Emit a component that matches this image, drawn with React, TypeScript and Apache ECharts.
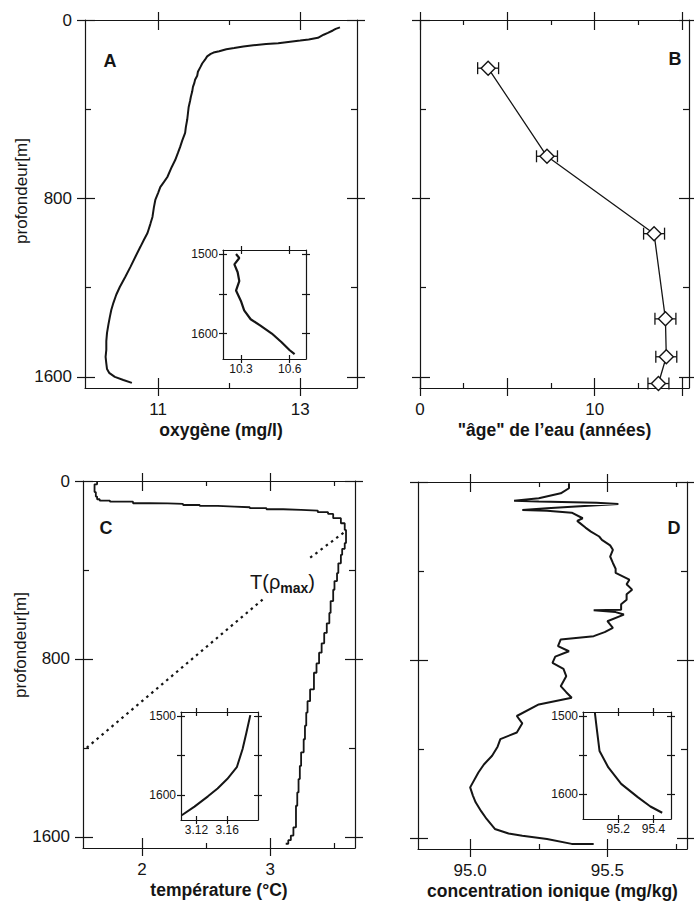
import React, { useEffect, useRef } from 'react';
import * as echarts from 'echarts';

// ---------- data ----------
const depthMajor = [0, 800, 1600];
const depthMinor = [400, 1200];
const depthLabels = [0, 800, 1600];
const insetDepthTicks = [1500, 1550, 1600];
const insetDepthLabels = [1500, 1600];

// A: oxygen [mg/l, depth m]
const oxyMajor = [11, 13];
const oxyMinor = [12];
const oxyLabels = [11, 13];
const oxygenProfile: number[][] = [
  [13.56, 33], [13.5, 40], [13.46, 47], [13.39, 58], [13.33, 66], [13.25, 80], [13.12, 87], [13.0, 92],
  [12.86, 97], [12.69, 104], [12.52, 108], [12.34, 113], [12.2, 119], [12.07, 126], [11.96, 131], [11.86, 140],
  [11.78, 146], [11.74, 152], [11.69, 163], [11.66, 178], [11.62, 195], [11.6, 208], [11.56, 232], [11.55, 250],
  [11.52, 268], [11.51, 282], [11.49, 300], [11.48, 320], [11.46, 345], [11.45, 362], [11.43, 390], [11.42, 417],
  [11.41, 445], [11.39, 480], [11.38, 506], [11.34, 540], [11.31, 569], [11.28, 595], [11.24, 628], [11.19, 660],
  [11.13, 704], [11.08, 727], [11.03, 749], [11.0, 775], [10.96, 807], [10.94, 840], [10.92, 883], [10.89, 915],
  [10.85, 955], [10.8, 985], [10.75, 1017], [10.69, 1055], [10.61, 1107], [10.54, 1150], [10.46, 1197], [10.41, 1232],
  [10.37, 1268], [10.34, 1300], [10.32, 1331], [10.3, 1365], [10.28, 1403], [10.27, 1440], [10.27, 1479], [10.26, 1510],
  [10.27, 1540], [10.28, 1565], [10.31, 1582], [10.39, 1600], [10.51, 1614], [10.63, 1627],
];
const oxyInsetTicks = [10.3, 10.6];
const oxygenInset: number[][] = [
  [10.27, 1500], [10.29, 1505], [10.26, 1513], [10.28, 1523], [10.29, 1534], [10.27, 1546], [10.3, 1559],
  [10.32, 1571], [10.36, 1582], [10.42, 1590], [10.49, 1600], [10.55, 1611], [10.6, 1621], [10.63, 1626],
];

// B: water age [years, depth m]
const ageMajor = [0, 5, 10, 15];
const ageMinor = [2.5, 7.5, 12.5];
const ageLabels = [0, 10];
const ageDepths = [216, 611, 958, 1340, 1510, 1630];
const ageValues = [3.9, 7.27, 13.4, 14.05, 14.1, 13.65];
const ageErrors = [0.6, 0.6, 0.6, 0.6, 0.6, 0.6];

// C: temperature [°C, depth m]
const tempMajor = [2, 3];
const tempMinor = [2.5, 3.5];
const tempLabels = [2, 3];
const temperatureProfile: number[][] = [
  [1.65, 5], [1.63, 15], [1.63, 30], [1.64, 50], [1.65, 70], [1.67, 82], [1.75, 88], [1.93, 93], [2.06, 100],
  [2.2, 101], [2.32, 103], [2.45, 108], [2.59, 112], [2.72, 115], [2.84, 118], [2.97, 122], [3.1, 127], [3.24, 130],
  [3.37, 133], [3.45, 140], [3.49, 148], [3.55, 167], [3.58, 190], [3.59, 220], [3.59, 250], [3.58, 279], [3.56, 305],
  [3.55, 332], [3.53, 370], [3.52, 414], [3.5, 450], [3.49, 489], [3.47, 540], [3.46, 593], [3.44, 640], [3.42, 683],
  [3.4, 730], [3.38, 772], [3.36, 820], [3.34, 862], [3.31, 937], [3.29, 990], [3.28, 1041], [3.27, 1100], [3.26, 1161],
  [3.24, 1220], [3.23, 1281], [3.22, 1340], [3.21, 1400], [3.2, 1460], [3.2, 1505], [3.18, 1557], [3.16, 1594],
  [3.14, 1615], [3.12, 1631],
];
const tRhoMaxUpper: number[][] = [[3.57, 233], [3.31, 345]];
const tRhoMaxLower: number[][] = [[2.94, 533], [1.555, 1206]];
const tempInsetTicks = [3.12, 3.16];
const temperatureInset: number[][] = [
  [3.19, 1499], [3.185, 1521], [3.18, 1542], [3.1725, 1565], [3.16, 1580], [3.1475, 1592], [3.135, 1602],
  [3.1175, 1615], [3.101, 1626],
];

// D: ionic concentration [mg/kg, depth m]
const ionMajor = [95.0, 95.5];
const ionMinor = [95.25, 95.75];
const ionLabels = [95.0, 95.5];
const ionProfile: number[][] = [
  [95.36, 6], [95.36, 28], [95.33, 51], [95.25, 73], [95.16, 84], [95.25, 88], [95.46, 93], [95.54, 99],
  [95.37, 111], [95.28, 118], [95.19, 126], [95.28, 129], [95.37, 138], [95.41, 163], [95.39, 175], [95.4, 185],
  [95.42, 205], [95.44, 223], [95.47, 245], [95.48, 260], [95.51, 285], [95.52, 305], [95.51, 335], [95.52, 364],
  [95.53, 390], [95.53, 409], [95.58, 439], [95.57, 460], [95.59, 484], [95.57, 505], [95.57, 529], [95.55, 550],
  [95.55, 574], [95.45, 577], [95.53, 585], [95.56, 596], [95.5, 626], [95.52, 656], [95.49, 675], [95.45, 693],
  [95.33, 708], [95.32, 738], [95.36, 761], [95.31, 785], [95.3, 813], [95.34, 840], [95.35, 873], [95.33, 918],
  [95.35, 945], [95.37, 970], [95.25, 1000], [95.17, 1052], [95.19, 1085], [95.17, 1126], [95.11, 1156], [95.1, 1190],
  [95.08, 1231], [95.05, 1270], [95.03, 1306], [95.0, 1373], [95.01, 1410], [95.02, 1440], [95.04, 1480],
  [95.06, 1515], [95.09, 1560], [95.14, 1580], [95.19, 1590], [95.28, 1605], [95.37, 1627], [95.45, 1627],
];
const ionInsetTicks = [95.2, 95.4];
const ionInset: number[][] = [
  [95.067, 1495], [95.078, 1516], [95.094, 1545], [95.144, 1566], [95.217, 1587], [95.311, 1604],
  [95.383, 1616], [95.45, 1624],
];

// ---------- styling ----------
const INK = '#151515';
const FONT = '"Liberation Sans", Arial, Helvetica, sans-serif';

type FrameCfg = {
  min: number; max: number; inverse?: boolean;
  major: number[]; minor?: number[]; labels?: number[]; digits?: number;
  out: number; inn: number; minorLen?: number;
  labelSize?: number; labelMargin?: number;
  name?: string; nameGap?: number;
};

function buildOption() {
  const grids = [
    { left: 85, top: 20, width: 272, height: 368 },
    { left: 420, top: 20, width: 269, height: 368 },
    { left: 83, top: 481, width: 272, height: 367 },
    { left: 418, top: 482, width: 269, height: 367 },
    { left: 223, top: 250, width: 83, height: 109, show: true, backgroundColor: '#fff', borderWidth: 0 },
    { left: 181, top: 712, width: 77, height: 108, show: true, backgroundColor: '#fff', borderWidth: 0 },
    { left: 583, top: 712, width: 88, height: 107, show: true, backgroundColor: '#fff', borderWidth: 0 },
  ].map((g) => ({ containLabel: false, outerBoundsMode: 'none', ...g }));

  const xAxes: any[] = [];
  const yAxes: any[] = [];
  const xMain: number[] = [];
  const yMain: number[] = [];

  const tickStyle = { color: INK, width: 1.2 };

  function addFrame(list: any[], mainIdx: number[], dim: 'x' | 'y', grid: number, c: FrameCfg) {
    const sides = dim === 'x' ? ['bottom', 'top'] : ['left', 'right'];
    sides.forEach((pos, si) => {
      const base: any = {
        type: 'value', gridIndex: grid, position: pos, min: c.min, max: c.max, inverse: !!c.inverse,
        splitLine: { show: false }, splitArea: { show: false }, minorTick: { show: false },
        axisLine: { show: false, onZero: false }, axisTick: { show: false }, axisLabel: { show: false },
        silent: true,
      };
      const main: any = {
        ...base,
        axisLine: { show: true, onZero: false, lineStyle: { color: INK, width: 1.2 } },
        axisTick: { show: true, inside: false, length: c.out, customValues: c.major, lineStyle: tickStyle },
      };
      if (si === 0) {
        if (c.labels) {
          main.axisLabel = {
            show: true, customValues: c.labels, margin: c.labelMargin ?? 13,
            fontSize: c.labelSize ?? 17, color: INK, fontFamily: FONT,
            formatter: (v: number) => (c.digits ? Number(v).toFixed(c.digits) : String(Math.round(v))),
          };
        }
        if (c.name) {
          main.name = c.name;
          main.nameLocation = 'middle';
          main.nameGap = c.nameGap ?? 33;
          main.nameTextStyle = { fontSize: 17.5, fontWeight: 'bold', color: INK, fontFamily: FONT };
        }
        mainIdx[grid] = list.length;
      }
      list.push(main);
      list.push({
        ...base,
        axisTick: { show: true, inside: true, length: c.inn, customValues: c.major, lineStyle: tickStyle },
      });
      if (c.minor && c.minor.length) {
        list.push({
          ...base,
          axisTick: { show: true, inside: true, length: c.minorLen ?? 5, customValues: c.minor, lineStyle: tickStyle },
        });
      }
    });
  }

  const depthCfg = (labels: boolean): FrameCfg => ({
    min: 0, max: 1650, inverse: true, major: depthMajor, minor: depthMinor,
    labels: labels ? depthLabels : undefined, out: 8, inn: 10, minorLen: 6, labelMargin: 13,
  });
  const insetDepthCfg: FrameCfg = {
    min: 1495, max: 1632, inverse: true, major: insetDepthTicks, labels: insetDepthLabels,
    out: 4, inn: 4, labelSize: 12, labelMargin: 5,
  };

  // A
  addFrame(xAxes, xMain, 'x', 0, { min: 9.97, max: 13.8, major: oxyMajor, minor: oxyMinor, labels: oxyLabels, out: 8, inn: 10, name: 'oxygène (mg/l)' });
  addFrame(yAxes, yMain, 'y', 0, depthCfg(true));
  // B
  addFrame(xAxes, xMain, 'x', 1, { min: 0, max: 15.4, major: ageMajor, minor: ageMinor, labels: ageLabels, out: 8, inn: 10, name: '"âge" de l\u2019eau (années)' });
  addFrame(yAxes, yMain, 'y', 1, depthCfg(false));
  // C
  addFrame(xAxes, xMain, 'x', 2, { min: 1.54, max: 3.66, major: tempMajor, minor: tempMinor, labels: tempLabels, out: 8, inn: 10, name: 'température (°C)' });
  addFrame(yAxes, yMain, 'y', 2, depthCfg(true));
  // D
  addFrame(xAxes, xMain, 'x', 3, { min: 94.81, max: 95.79, major: ionMajor, minor: ionMinor, labels: ionLabels, digits: 1, out: 8, inn: 10, name: 'concentration ionique (mg/kg)' });
  addFrame(yAxes, yMain, 'y', 3, depthCfg(false));
  // insets
  addFrame(xAxes, xMain, 'x', 4, { min: 10.19, max: 10.7, major: oxyInsetTicks, labels: oxyInsetTicks, digits: 1, out: 4, inn: 4, labelSize: 12, labelMargin: 4 });
  addFrame(yAxes, yMain, 'y', 4, insetDepthCfg);
  addFrame(xAxes, xMain, 'x', 5, { min: 3.1, max: 3.2, major: tempInsetTicks, labels: tempInsetTicks, digits: 2, out: 4, inn: 4, labelSize: 12, labelMargin: 4 });
  addFrame(yAxes, yMain, 'y', 5, insetDepthCfg);
  addFrame(xAxes, xMain, 'x', 6, { min: 95.0, max: 95.5, major: ionInsetTicks, labels: ionInsetTicks, digits: 1, out: 4, inn: 4, labelSize: 12, labelMargin: 4 });
  addFrame(yAxes, yMain, 'y', 6, insetDepthCfg);

  const on = (g: number) => ({ xAxisIndex: xMain[g], yAxisIndex: yMain[g] });
  const profile = (g: number, data: number[][], width: number, extra: any = {}) => ({
    type: 'line', ...on(g), data, showSymbol: false, symbol: 'none',
    lineStyle: { color: INK, width }, z: 3, ...extra,
  });

  const ageData = ageValues.map((v, i) => [v, ageDepths[i]]);
  const errData = ageValues.map((v, i) => [v - ageErrors[i], v + ageErrors[i], ageDepths[i]]);

  const series: any[] = [
    profile(0, oxygenProfile, 2),
    profile(4, oxygenInset, 2.2),
    {
      type: 'custom', ...on(1), data: errData, z: 3,
      renderItem: (_p: any, api: any) => {
        const a = api.coord([api.value(0), api.value(2)]);
        const b = api.coord([api.value(1), api.value(2)]);
        const h = 6;
        const st = { stroke: INK, lineWidth: 1.3 };
        return {
          type: 'group',
          children: [
            { type: 'line', shape: { x1: a[0], y1: a[1], x2: b[0], y2: b[1] }, style: st },
            { type: 'line', shape: { x1: a[0], y1: a[1] - h, x2: a[0], y2: a[1] + h }, style: st },
            { type: 'line', shape: { x1: b[0], y1: b[1] - h, x2: b[0], y2: b[1] + h }, style: st },
          ],
        };
      },
    },
    {
      type: 'line', ...on(1), data: ageData, symbol: 'diamond', symbolSize: 14, showSymbol: true, z: 4,
      lineStyle: { color: INK, width: 1.3 },
      itemStyle: { color: '#fff', borderColor: INK, borderWidth: 1.4 },
    },
    profile(2, temperatureProfile, 1.8, { step: 'start' }),
    {
      type: 'line', ...on(2), data: tRhoMaxUpper, symbol: 'none', z: 3,
      lineStyle: { color: INK, width: 2.2, type: [2.5, 4] },
    },
    {
      type: 'line', ...on(2), data: tRhoMaxLower, symbol: 'none', z: 3,
      lineStyle: { color: INK, width: 2.2, type: [2.5, 4] },
    },
    profile(5, temperatureInset, 2),
    profile(3, ionProfile, 2),
    profile(6, ionInset, 2),
  ];

  const letter = (t: string, x: number, y: number) => ({
    type: 'text', x, y, z: 10,
    style: { text: t, fontSize: 18, fontWeight: 'bold', fill: INK, fontFamily: FONT, align: 'center', verticalAlign: 'middle' },
  });
  const yName = (x: number, y: number) => ({
    type: 'text', x, y, rotation: Math.PI / 2, z: 10,
    style: { text: 'profondeur[m]', fontSize: 17, fill: INK, fontFamily: FONT, align: 'center', verticalAlign: 'middle' },
  });

  return {
    animation: false,
    backgroundColor: '#fff',
    textStyle: { fontFamily: FONT },
    grid: grids,
    xAxis: xAxes,
    yAxis: yAxes,
    series,
    graphic: [
      letter('A', 110, 61),
      letter('B', 675, 59),
      letter('C', 106, 528),
      letter('D', 674, 528),
      yName(21, 191),
      yName(20, 645),
      {
        type: 'text', x: 250, y: 582, z: 10,
        style: {
          text: '{a|T(ρ}{b|max}{a|)}', fill: INK, fontFamily: FONT, align: 'left', verticalAlign: 'middle',
          rich: {
            a: { fontSize: 20, fill: INK, fontFamily: FONT },
            b: { fontSize: 14, fontWeight: 'bold', fill: INK, fontFamily: FONT, padding: [12, 0, 0, 0] },
          },
        },
      },
    ],
  };
}

export default function App() {
  const ref = useRef<HTMLDivElement>(null);
  useEffect(() => {
    if (!ref.current) return;
    const chart = echarts.init(ref.current, null, { renderer: 'svg' });
    chart.setOption(buildOption() as any);
    return () => chart.dispose();
  }, []);
  return (
    <div
      ref={ref}
      style={{ position: 'fixed', left: 0, top: 0, width: 694, height: 902, background: '#fff' }}
    />
  );
}
